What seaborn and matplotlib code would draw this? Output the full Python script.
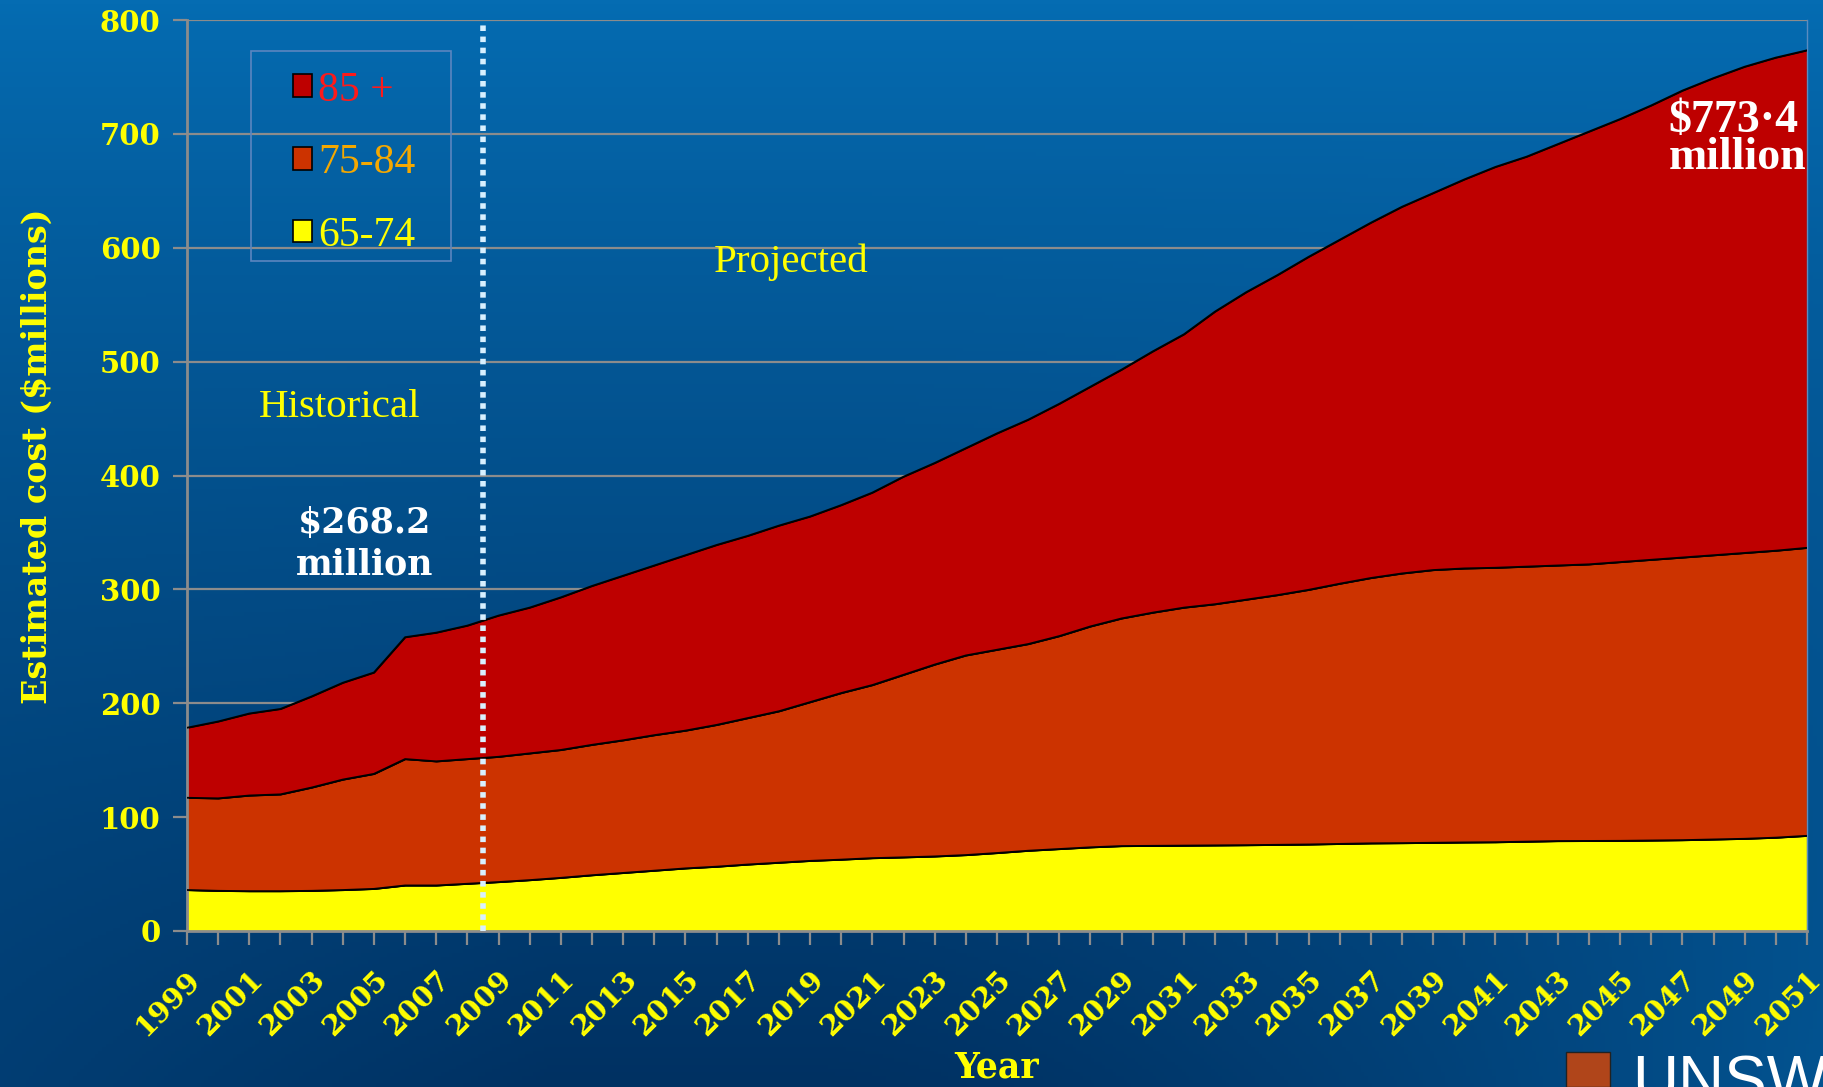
import numpy as np
import pandas as pd
import matplotlib
matplotlib.use("Agg")
import matplotlib.pyplot as plt
from matplotlib.patches import Patch, Rectangle
import seaborn as sns

# Estimated cost by age group ($ millions), 1999-2051
years = list(range(1999, 2052))
age_65_74 = [36.0, 35.3, 35.0, 35.0, 35.3, 36.0, 37.0, 40.0, 40.0, 41.5,
             43.0, 44.7, 46.7, 49.0, 51.0, 53.0, 55.0, 56.5, 58.4, 60.0,
             61.6, 62.7, 64.0, 64.7, 65.5, 66.7, 68.5, 70.5, 72.0, 73.5,
             74.6, 74.8, 75.0, 75.2, 75.4, 75.7, 76.0, 76.5, 77.0, 77.2,
             77.5, 77.8, 78.0, 78.5, 79.0, 79.1, 79.2, 79.5, 79.8, 80.4,
             81.0, 82.0, 83.6]
age_75_84 = [81.0, 81.2, 84.0, 85.0, 90.7, 97.0, 101.0, 111.0, 109.0, 109.5,
             110.0, 111.3, 112.3, 114.5, 116.5, 119.0, 121.0, 124.5, 128.6, 133.0,
             139.4, 146.3, 152.0, 160.3, 168.5, 175.3, 178.5, 181.5, 187.0, 194.0,
             199.9, 204.8, 209.0, 211.8, 215.6, 219.3, 223.6, 228.5, 233.0, 236.8,
             239.5, 240.6, 241.0, 241.5, 242.0, 242.9, 244.8, 246.5, 248.2, 249.6,
             251.0, 252.0, 252.9]
age_85_plus = [61.5, 67.5, 72.0, 75.0, 80.0, 85.0, 89.0, 107.0, 113.0, 117.2,
               124.0, 128.0, 134.0, 139.5, 144.5, 149.0, 154.0, 158.0, 160.0, 163.0,
               163.0, 165.0, 169.0, 174.0, 177.0, 182.0, 190.0, 197.0, 204.0, 210.5,
               218.5, 229.4, 240.0, 257.0, 270.0, 281.0, 292.4, 302.0, 312.0, 322.0,
               331.0, 341.6, 352.0, 360.0, 370.0, 380.0, 389.0, 399.0, 410.0, 419.0,
               427.0, 433.0, 436.9]

group_labels = ["65-74", "75-84", "85 +"]
group_colors = ["#FFFF00", "#CC3300", "#BE0000"]
legend_text_colors = ["#FF1A1A", "#F5A800", "#FFFF00"]
split_year = 2008.5

sns.set_style("ticks")
plt.rcParams["font.family"] = ["DejaVu Serif"]

fig = plt.figure(figsize=(18.24, 10.87), dpi=100)

# blue gradient background
h, w = 300, 500
yy, xx = np.mgrid[0:1:h * 1j, 0:1:w * 1j]
f = (1 - 0.95 * yy ** 0.9
     + 0.55 * yy ** 2 * np.clip((xx - 0.45) / 0.55, 0, 1) ** 1.5
     + 0.2 * yy ** 3 * np.clip((0.3 - xx) / 0.3, 0, 1))
f = np.clip(f, 0, 1)
light = np.array([5, 108, 178]) / 255
dark = np.array([0, 46, 94]) / 255
grad = dark + f[..., None] * (light - dark)
bg = fig.add_axes([0, 0, 1, 1], zorder=0)
bg.imshow(grad, aspect="auto", extent=[0, 1, 0, 1], origin="upper")
bg.axis("off")

ax = fig.add_axes([187 / 1824, 1 - 931 / 1087, 1620 / 1824, 911 / 1087], zorder=1)
ax.patch.set_alpha(0)

df = pd.DataFrame({"year": years, "65-74": age_65_74,
                   "75-84": age_75_84, "85 +": age_85_plus})

ax.stackplot(df["year"], df["65-74"], df["75-84"], df["85 +"],
             colors=group_colors, edgecolor="black", linewidth=0.8, zorder=2)

# black boundary lines on top of each band
cum = df[group_labels].cumsum(axis=1)
for g in group_labels:
    sns.lineplot(x=df["year"], y=cum[g], color="black", linewidth=1.3, ax=ax, zorder=3)

ax.axvline(split_year, color="#D8F0FF", linestyle=(0, (1, 1)), linewidth=4, zorder=5)

ax.set_xlim(1999, 2051)
ax.set_ylim(0, 800)
ax.set_axisbelow(True)
ax.set_yticks(range(0, 801, 100))
ax.yaxis.grid(True, color="#8C8C8C", linewidth=1.6)
ax.xaxis.grid(False)

ax.set_xticks(years)
ax.set_xticklabels([str(y) if (y - 1999) % 2 == 0 else "" for y in years])
ax.tick_params(axis="x", length=10, width=1.6, color="#8C8C8C", pad=15,
               labelsize=20.5, labelcolor="#FFFF00")
ax.tick_params(axis="y", length=10, width=1.6, color="#8C8C8C", pad=9,
               labelsize=21, labelcolor="#FFFF00")
for lab in ax.get_xticklabels():
    lab.set_rotation(45)
    lab.set_ha("right")
    lab.set_va("top")
    lab.set_rotation_mode("anchor")
    lab.set_fontweight("bold")
for lab in ax.get_yticklabels():
    lab.set_fontweight("bold")

for s in ["left", "bottom"]:
    ax.spines[s].set_color("#8C8C8C")
    ax.spines[s].set_linewidth(2)
ax.spines["top"].set_visible(False)
ax.spines["right"].set_color("#5B8CC0")
ax.spines["right"].set_linewidth(1)

ax.set_ylabel("Estimated cost ($millions)", fontsize=24, fontweight="bold", color="#FFFF00")
ax.yaxis.set_label_coords(-0.082, 0.521)
ax.set_xlabel("Year", fontsize=25, fontweight="bold", color="#FFFF00")
ax.xaxis.set_label_coords(0.5, -0.131)

# legend
handles = [Patch(facecolor=c, edgecolor="black", linewidth=1.2)
           for c in group_colors[::-1]]
leg = ax.legend(handles, group_labels[::-1], loc="upper left",
                bbox_to_anchor=(0.0655, 0.944), borderaxespad=0, borderpad=0,
                frameon=False, handlelength=0.45, handleheight=0.45,
                handletextpad=0.15, labelspacing=0.82,
                labelcolor=legend_text_colors,
                prop={"family": "Liberation Serif", "size": 30})
fig.add_artist(Rectangle((251 / 1824, 1 - 261 / 1087), 200 / 1824, 210 / 1087,
                         transform=fig.transFigure, fill=False,
                         edgecolor="#5B86C0", linewidth=1.2, zorder=2))

ax.text(2003.9, 460, "Historical", color="#FFFF00", ha="center", va="center",
        fontsize=29.5, family="Liberation Serif", zorder=6)
ax.text(2018.4, 587, "Projected", color="#FFFF00", ha="center", va="center",
        fontsize=29.5, family="Liberation Serif", zorder=6)
ax.text(2004.7, 340, "$268.2\nmillion", color="white", ha="center", va="center",
        fontsize=25, fontweight="bold", linespacing=1.3, zorder=6)
ax.text(2046.55, 695, "$773·4\nmillion", color="white", ha="left", va="center",
        fontsize=33, fontweight="bold", family="Liberation Serif",
        linespacing=0.85, zorder=6)

# logo corner
fig.add_artist(Rectangle((1566 / 1824, 0), 44 / 1824, 35 / 1087,
                         transform=fig.transFigure, facecolor="#B0451A",
                         edgecolor="#222222", linewidth=1, zorder=2))
fig.text(1632 / 1824, 1 - 1054 / 1087, "UNSW", color="white", fontsize=46,
         family="Liberation Sans", va="top", ha="left", zorder=3)

fig.savefig("out.png", dpi=100)
